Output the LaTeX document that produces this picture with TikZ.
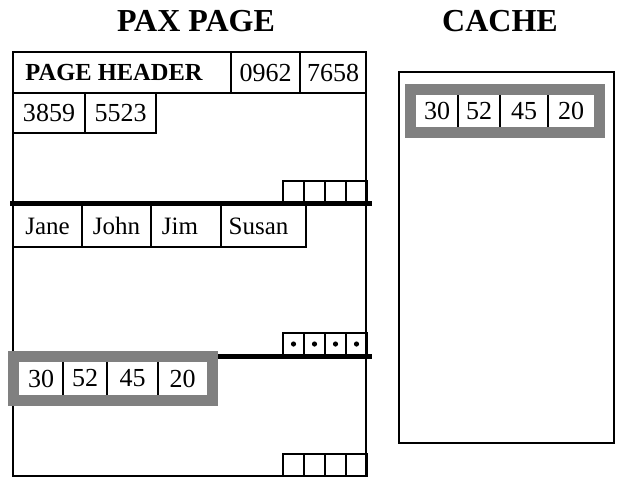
\documentclass[tikz,border=0pt]{standalone}
\usepackage{fontspec}
\setmainfont{Liberation Serif}
\usetikzlibrary{positioning}

\begin{document}
\begin{tikzpicture}[x=1pt,y=-1pt,
  frame/.style={draw,line width=2.6pt,inner sep=0pt,outer sep=0pt},
  cell/.style={draw,line width=1.6pt,inner sep=0pt,outer sep=0pt,minimum height=41pt,font=\fontsize{25}{25}\selectfont},
  slot/.style={draw,line width=1.6pt,inner sep=0pt,outer sep=0pt,minimum width=21pt,minimum height=22pt},
  dotslot/.style={slot,path picture={\fill (path picture bounding box.center) circle (2.6pt);}},
  rule/.style={line width=5pt},
  greybox/.style={fill=black!50,inner sep=0pt,outer sep=0pt},
  keycell/.style={fill=white,inner sep=0pt,outer sep=0pt,minimum height=33pt,font=\fontsize{26}{26}\selectfont},
  divider/.style={line width=1.6pt},
  title/.style={font=\fontsize{32}{32}\selectfont\bfseries}]
\useasboundingbox (0,0) rectangle (618,477);
% titles
\node[title] (paxtitle) at (196,21) {PAX PAGE};
\node[title] (cachetitle) at (500,21) {CACHE};
% pax page
\node[frame,anchor=north west,minimum width=353pt,minimum height=424pt] (page) at (13,52) {};
\node[cell,anchor=north west,minimum width=218pt,font=\fontsize{24.5}{24.5}\selectfont\bfseries] (hdr) at (13,52) {\hspace*{-16pt}PAGE HEADER};
\node[cell,right=0pt of hdr,minimum width=69pt,font=\fontsize{26}{26}\selectfont] (hdra) {0962};
\node[cell,right=0pt of hdra,minimum width=66pt,font=\fontsize{26}{26}\selectfont] (hdrb) {7658};
\node[cell,anchor=north west,minimum width=72pt,minimum height=40pt,font=\fontsize{26}{26}\selectfont] (ptra) at (13,93) {3859};
\node[cell,right=0pt of ptra,minimum width=71pt,minimum height=40pt,font=\fontsize{26}{26}\selectfont] (ptrb) {5523};
% first record block
\node[slot,anchor=south west] (sa1) at (283,203) {};
\node[slot,right=0pt of sa1] (sa2) {};
\node[slot,right=0pt of sa2] (sa3) {};
\node[slot,right=0pt of sa3] (sa4) {};
\draw[rule] (10,203.5) -- (372,203.5);
\node[cell,anchor=north west,minimum width=69pt,minimum height=42pt] (jane) at (13,205) {Jane};
\node[cell,right=0pt of jane,minimum width=69pt,minimum height=42pt] (john) {John};
\node[cell,right=0pt of john,minimum width=70pt,minimum height=42pt] (jim) {Jim\hspace*{12pt}};
\node[cell,right=0pt of jim,minimum width=85pt,minimum height=42pt] (susan) {Susan\hspace*{10pt}};
% second record block
\node[dotslot,anchor=south west] (sb1) at (283,355) {};
\node[dotslot,right=0pt of sb1] (sb2) {};
\node[dotslot,right=0pt of sb2] (sb3) {};
\node[dotslot,right=0pt of sb3] (sb4) {};
\draw[rule] (10,356) -- (372,356);
\node[greybox,anchor=north west,minimum width=210pt,minimum height=55pt] (pgrey) at (8,351) {};
\node[keycell,anchor=north west,minimum width=44pt] (pk1) at (19,362) {30};
\node[keycell,right=0pt of pk1,minimum width=44pt] (pk2) {52};
\node[keycell,right=0pt of pk2,minimum width=51pt] (pk3) {45};
\node[keycell,right=0pt of pk3,minimum width=49pt] (pk4) {20};
\draw[divider] (pk1.north east) -- (pk1.south east);
\draw[divider] (pk2.north east) -- (pk2.south east);
\draw[divider] (pk3.north east) -- (pk3.south east);
% third record block
\node[slot,anchor=south west] (sc1) at (283,476) {};
\node[slot,right=0pt of sc1] (sc2) {};
\node[slot,right=0pt of sc2] (sc3) {};
\node[slot,right=0pt of sc3] (sc4) {};
\draw[line width=2.6pt] (page.north east) -- (page.south east);
% cache
\node[frame,anchor=north west,minimum width=215pt,minimum height=371pt] (cache) at (399,72) {};
\node[greybox,anchor=north west,minimum width=200pt,minimum height=54pt] (cgrey) at (405,84) {};
\node[keycell,anchor=north west,minimum width=42pt,minimum height=32pt] (ck1) at (416,95) {30};
\node[keycell,right=0pt of ck1,minimum width=42pt,minimum height=32pt] (ck2) {52};
\node[keycell,right=0pt of ck2,minimum width=48pt,minimum height=32pt] (ck3) {45};
\node[keycell,right=0pt of ck3,minimum width=46pt,minimum height=32pt] (ck4) {20};
\draw[divider] (ck1.north east) -- (ck1.south east);
\draw[divider] (ck2.north east) -- (ck2.south east);
\draw[divider] (ck3.north east) -- (ck3.south east);
\end{tikzpicture}
\end{document}
